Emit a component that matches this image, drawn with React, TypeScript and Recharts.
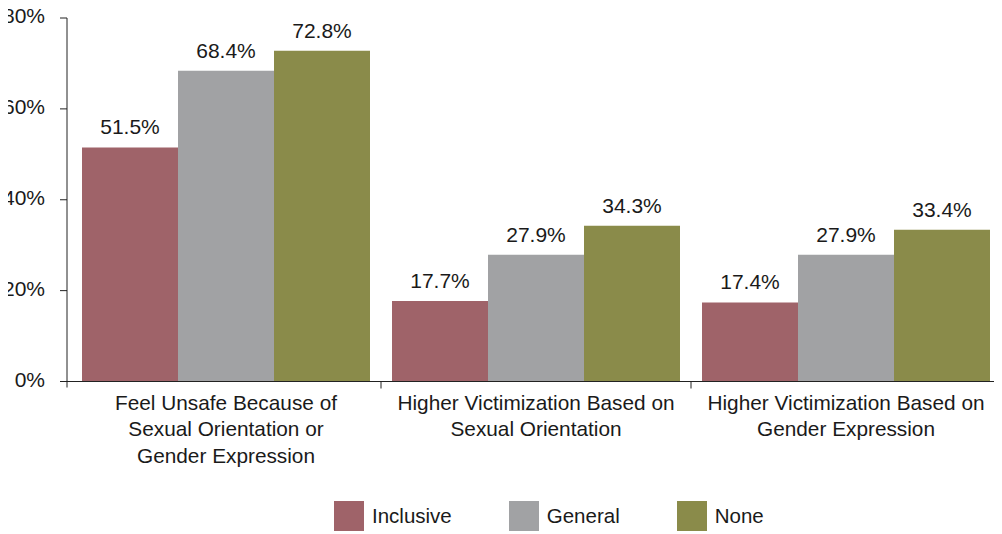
import { BarChart, Bar, XAxis, YAxis, Legend, LabelList } from "recharts";

const categories = [
  "Feel Unsafe Because of\nSexual Orientation or\nGender Expression",
  "Higher Victimization Based on\nSexual Orientation",
  "Higher Victimization Based on\nGender Expression",
];
const seriesNames = ["Inclusive", "General", "None"] as const;
const inclusive = [51.5, 17.7, 17.4];
const general = [68.4, 27.9, 27.9];
const none = [72.8, 34.3, 33.4];
const yTicks = [0, 20, 40, 60, 80];

const data = categories.map((c, i) => ({
  category: c,
  Inclusive: inclusive[i],
  General: general[i],
  None: none[i],
}));

const FONT = "'Liberation Sans', Arial, sans-serif";
const TEXT = "#1a1a1a";
const AXIS = "#222";
const colors: Record<string, string> = { Inclusive: "#9F6369", General: "#A1A2A4", None: "#8A8B4A" };

const W = 1002;
const H = 534;
const margin = { top: 18, right: 1, bottom: 0, left: 0 };
const yAxisW = 67;
const padLeft = 4;
const halfBand = (W - margin.left - margin.right - yAxisW - padLeft) / categories.length / 2;

const CategoryTick = (props: any) => {
  const { x, y, payload, index } = props;
  const lines = String(payload.value).split("\n");
  return (
    <g>
      {index === 0 && (
        <line x1={x - halfBand - padLeft} x2={x - halfBand - padLeft} y1={y} y2={y + 6} stroke={AXIS} />
      )}
      <line x1={x + halfBand} x2={x + halfBand} y1={y} y2={y + 7} stroke={AXIS} />
      <text x={x} y={y + 28} textAnchor="middle" fill={TEXT} fontSize={20.8} fontFamily={FONT}>
        {lines.map((l, i) => (
          <tspan key={i} x={x} dy={i === 0 ? 0 : 26.5}>
            {l}
          </tspan>
        ))}
      </text>
    </g>
  );
};

const renderLegend = () => (
  <div
    style={{
      height: 36,
      display: "flex",
      alignItems: "center",
      paddingLeft: 334,
      gap: 57,
      fontFamily: FONT,
      fontSize: 20.5,
      color: TEXT,
    }}
  >
    {seriesNames.map((n) => (
      <div key={n} style={{ display: "flex", alignItems: "center" }}>
        <span style={{ width: 30, height: 30, background: colors[n], marginRight: 8, display: "inline-block" }} />
        <span>{n}</span>
      </div>
    ))}
  </div>
);

const fmt = (v: any) => `${Number(v).toFixed(1)}%`;

export default function App() {
  return (
    <div style={{ fontFamily: FONT, margin: "-8px 0 0 -8px", width: W, height: H }}>
      <BarChart
        width={W}
        height={H}
        data={data}
        margin={margin}
        barCategoryGap={11}
        barGap={0}
      >
        <XAxis
          dataKey="category"
          interval={0}
          height={116.5}
          padding={{ left: padLeft, right: 0 }}
          tickLine={false}
          tickSize={0}
          tickMargin={0}
          axisLine={{ stroke: AXIS }}
          tick={<CategoryTick />}
        />
        <YAxis
          width={yAxisW}
          domain={[0, 80]}
          ticks={yTicks}
          tickFormatter={(v) => `${v}%`}
          tickSize={7}
          tickMargin={15}
          axisLine={{ stroke: AXIS }}
          tickLine={{ stroke: AXIS }}
          tick={{ fill: TEXT, fontSize: 21, fontFamily: FONT, dy: -2 }}
        />
        <Legend verticalAlign="bottom" content={renderLegend} />
        {seriesNames.map((k) => (
          <Bar key={k} dataKey={k} fill={colors[k]} isAnimationActive={false}>
            <LabelList
              dataKey={k}
              position="top"
              offset={13}
              formatter={fmt}
              fill={TEXT}
              fontSize={21}
              fontFamily={FONT}
            />
          </Bar>
        ))}
      </BarChart>
    </div>
  );
}
